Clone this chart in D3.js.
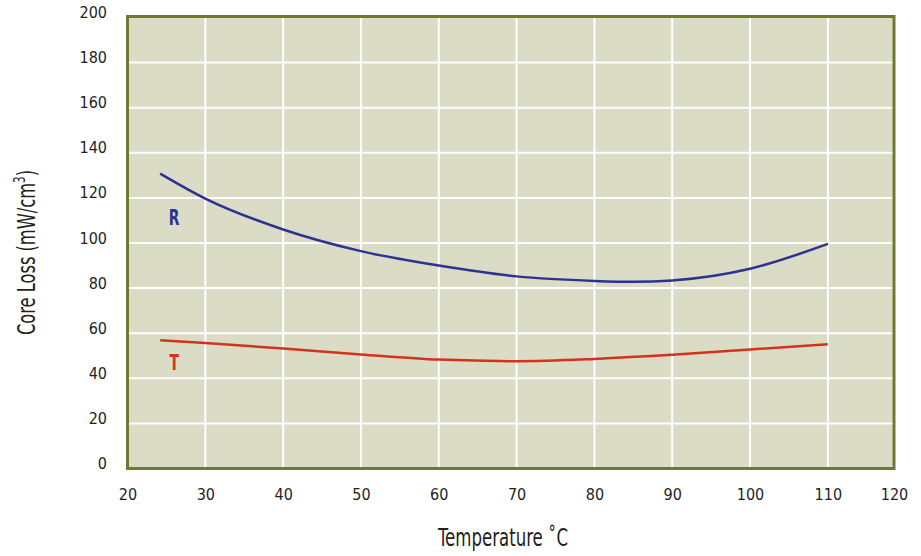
<!DOCTYPE html>
<html>
<head>
<meta charset="utf-8">
<script src="https://cdn.jsdelivr.net/npm/d3@7"></script>
<style>
  body { margin: 0; background: #fff; }
  text { font-family: "DejaVu Sans Condensed", "Liberation Sans Narrow", sans-serif; font-stretch: condensed; fill: #231f20; }
</style>
</head>
<body>
<script>
// values
const xTicks = [20, 30, 40, 50, 60, 70, 80, 90, 100, 110, 120]
const yTicks = [0, 20, 40, 60, 80, 100, 120, 140, 160, 180, 200]

const tempR = [24.2, 30, 40, 50, 60, 70, 80, 85, 90, 100, 110]
const lossR = [130.8, 119.7, 106, 96.4, 90, 85.2, 83.2, 82.8, 83.4, 88.6, 99.6]

const tempT = [24.2, 30, 40, 50, 60, 70, 80, 90, 100, 110]
const lossT = [56.9, 55.7, 53.2, 50.6, 48.3, 47.6, 48.6, 50.4, 52.8, 55.1]

const w = 921
const h = 556

const svg = d3.select('body')
    .append('svg')
    .attr('width', w)
    .attr('height', h)

// plot frame stops a little short of 120, the last label is pinned to the edge
const x = d3.scaleLinear()
    .domain([20, 118.5])
    .range([127.5, 894])
    .clamp(true)

const y = d3.scaleLinear()
    .domain([0, 200])
    .range([468.5, 17.5])

const [x0, x1] = x.range()
const [y0, y1] = y.range()

svg.append('rect')
    .attr('x', x0)
    .attr('y', y1 - 1)
    .attr('width', x1 - x0)
    .attr('height', y0 - y1 + 1)
    .attr('fill', '#dadcc6')

// grid
svg.append('g')
    .selectAll('line')
    .data(xTicks.filter(d => d > 20 && d < 118.5))
    .enter()
    .append('line')
    .attr('x1', d => x(d))
    .attr('x2', d => x(d))
    .attr('y1', y1)
    .attr('y2', y0)
    .attr('stroke', '#fff')
    .attr('stroke-width', 2)

svg.append('g')
    .selectAll('line')
    .data(yTicks.filter(d => d > 0 && d < 200))
    .enter()
    .append('line')
    .attr('x1', x0)
    .attr('x2', x1)
    .attr('y1', d => y(d))
    .attr('y2', d => y(d))
    .attr('stroke', '#fff')
    .attr('stroke-width', 2)

// frame
svg.append('rect')
    .attr('x', x0)
    .attr('y', y1 - 1)
    .attr('width', x1 - x0)
    .attr('height', y0 - y1 + 1)
    .attr('fill', 'none')
    .attr('stroke', '#6e7a32')
    .attr('stroke-width', 3)

// axes, labels only
const xAxis = d3.axisBottom(x)
    .tickValues(xTicks)
    .tickSize(0)
    .tickPadding(0)

const gx = svg.append('g')
    .attr('id', 'x-axis')
    .attr('transform', `translate(0, 500)`)
    .call(xAxis)
gx.select('.domain').remove()
gx.selectAll('text')
    .attr('dy', 0)
    .attr('font-size', 16)
    .attr('font-weight', 500)

const yAxis = d3.axisLeft(y)
    .tickValues(yTicks)
    .tickSize(0)
    .tickPadding(0)

const gy = svg.append('g')
    .attr('id', 'y-axis')
    .attr('transform', `translate(107, 0)`)
    .call(yAxis)
gy.select('.domain').remove()
gy.selectAll('text')
    .attr('dy', 0)
    .attr('x', 0)
    .attr('font-size', 16)
    .attr('font-weight', 500)

// curves
const line = d3.line()
    .x(d => x(d[0]))
    .y(d => y(d[1]))
    .curve(d3.curveMonotoneX)

svg.append('path')
    .datum(d3.zip(tempR, lossR))
    .attr('d', line)
    .attr('fill', 'none')
    .attr('stroke', '#2e3192')
    .attr('stroke-width', 2.5)

svg.append('path')
    .datum(d3.zip(tempT, lossT))
    .attr('d', line)
    .attr('fill', 'none')
    .attr('stroke', '#d2331f')
    .attr('stroke-width', 2.5)

// series labels, narrowed like the original condensed face
svg.append('text')
    .attr('transform', `translate(${x(26)}, ${y(108)}) scale(0.7, 1)`)
    .attr('text-anchor', 'middle')
    .attr('font-size', 22)
    .attr('font-weight', 'bold')
    .style('fill', '#2e3192')
    .text('R')

svg.append('text')
    .attr('transform', `translate(${x(26)}, ${y(43.7)}) scale(0.7, 1)`)
    .attr('text-anchor', 'middle')
    .attr('font-size', 22)
    .attr('font-weight', 'bold')
    .style('fill', '#d2331f')
    .text('T')

// titles
svg.append('text')
    .attr('x', 503)
    .attr('y', 546)
    .attr('text-anchor', 'middle')
    .attr('font-size', 25)
    .attr('textLength', 130)
    .attr('lengthAdjust', 'spacingAndGlyphs')
    .text('Temperature \u02daC')

const yt = svg.append('text')
    .attr('transform', 'translate(35, 252.5) rotate(-90)')
    .attr('text-anchor', 'middle')
    .attr('font-size', 25)
    .attr('textLength', 165)
    .attr('lengthAdjust', 'spacingAndGlyphs')
yt.append('tspan').text('Core Loss (mW/cm')
yt.append('tspan').attr('dy', -10).attr('font-size', 16).text('3')
yt.append('tspan').attr('dy', 10).text(')')
</script>
</body>
</html>
